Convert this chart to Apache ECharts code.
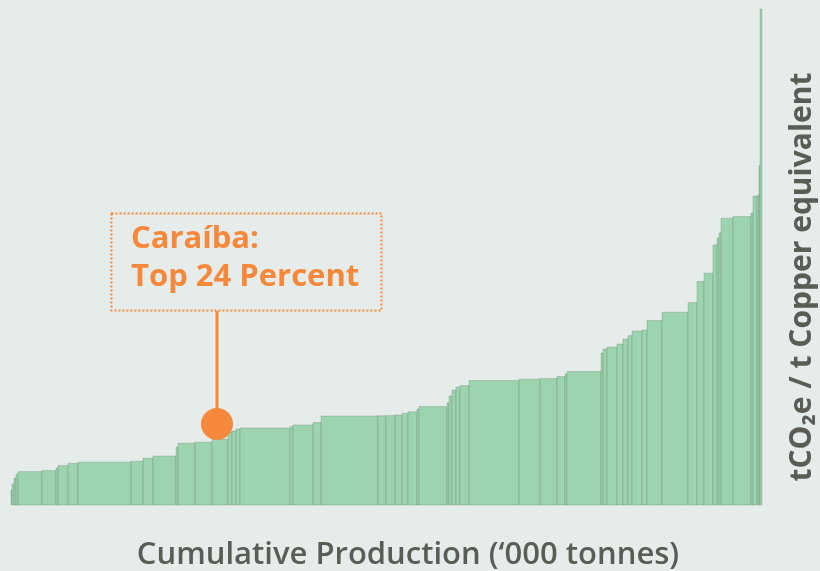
<!DOCTYPE html>
<html>
<head>
	<meta charset="utf-8">
	<title>Caraíba emissions curve</title>
	<script src="https://cdn.jsdelivr.net/npm/echarts@6.0.0/dist/echarts.min.js"></script>
	<style type="text/css">
		html, body { margin: 0; padding: 0; background-color: #e6ecea; }
		#curveBox { width: 820px; height: 571px; }
	</style>
</head>
<body>
<div id="curveBox"></div>

<script>
	// production of each asset, '000 tonnes (bar widths), in curve order
	var production = [
		25, 50, 50, 50, 600, 350, 50, 250, 250, 1325,
		300, 250, 575, 50, 425, 425, 400, 100, 100, 100,
		1250, 75, 500, 200, 1425, 200, 225, 175, 150, 225,
		50, 700, 50, 75, 100, 100, 225, 1250, 525, 425,
		200, 50, 850, 50, 100, 250, 150, 125, 100, 250,
		125, 375, 650, 225, 175, 225, 100, 50, 50, 300,
		450, 50, 100, 50, 25, 50
	];
	// emissions intensity, tCO2e / t copper equivalent (bar heights)
	var intensity = [
		0.75, 1.05, 1.35, 1.55, 1.67, 1.72, 1.85, 1.97, 2.08, 2.14,
		2.19, 2.34, 2.45, 2.90, 3.09, 3.14, 3.30, 3.64, 3.70, 3.80,
		3.85, 3.92, 4.00, 4.12, 4.45, 4.46, 4.47, 4.50, 4.58, 4.66,
		4.80, 4.92, 5.10, 5.45, 5.75, 5.90, 5.97, 6.22, 6.29, 6.32,
		6.42, 6.55, 6.67, 7.60, 7.80, 7.90, 8.05, 8.29, 8.47, 8.70,
		8.75, 9.22, 9.64, 10.12, 11.17, 11.59, 13.00, 13.35, 13.60, 14.34,
		14.42, 14.60, 15.45, 15.48, 16.97, 24.80
	];
	// Caraíba marker: cumulative production, intensity
	var caraiba = [5150, 4.05];
	var caraibaLabel = ['Caraíba:', 'Top 24 Percent'];
	var xTitle = 'Cumulative Production (‘000 tonnes)';
	var yTitle = 'tCO₂e / t Copper equivalent';

	var steps = [];
	var total = 0;
	for (var i = 0; i < production.length; i++) {
		steps.push([total, total + production[i], intensity[i]]);
		total += production[i];
	}

	function renderStep(params, api) {
		var topLeft = api.coord([api.value(0), api.value(2)]);
		var bottomRight = api.coord([api.value(1), 0]);
		return {
			type: 'rect',
			shape: {
				x: topLeft[0],
				y: topLeft[1],
				width: bottomRight[0] - topLeft[0],
				height: bottomRight[1] - topLeft[1]
			},
			style: { fill: '#9bd4ae', stroke: 'rgba(105,128,110,0.55)', lineWidth: 0.6 }
		};
	}

	var curveChart = echarts.init(document.getElementById('curveBox'));
	var orange = '#f5883a';
	var grey = '#5a5c56';

	curveChart.setOption({
		backgroundColor: '#e6ecea',
		animation: false,
		grid: { left: 11, right: 58, top: 5, bottom: 66 },
		xAxis: {
			type: 'value',
			min: 0,
			max: total,
			axisLine: { show: false },
			axisTick: { show: false },
			axisLabel: { show: false },
			splitLine: { show: false }
		},
		yAxis: {
			type: 'value',
			min: 0,
			max: 25,
			axisLine: { show: false },
			axisTick: { show: false },
			axisLabel: { show: false },
			splitLine: { show: false }
		},
		series: [{
			type: 'custom',
			renderItem: renderStep,
			encode: { x: [0, 1], y: 2 },
			data: steps,
			z: 2
		}, {
			type: 'scatter',
			symbolSize: 32,
			itemStyle: { color: orange, opacity: 1 },
			data: [caraiba],
			z: 5
		}],
		graphic: [{
			type: 'rect',
			shape: { x: 111.5, y: 213.5, width: 270, height: 97 },
			style: { fill: 'none', stroke: orange, lineWidth: 2, lineDash: [2, 2] },
			z: 10
		}, {
			type: 'line',
			shape: { x1: 217, y1: 311, x2: 217, y2: 420 },
			style: { stroke: orange, lineWidth: 3 },
			z: 4
		}, {
			type: 'text',
			left: 131,
			top: 220,
			style: {
				text: caraibaLabel.join('\n'),
				fill: orange,
				font: 'bold 31px "Open Sans"',
				lineHeight: 38
			},
			z: 10
		}, {
			type: 'text',
			x: 408,
			y: 555,
			style: {
				text: xTitle,
				fill: grey,
				font: '600 31px "Open Sans"',
				align: 'center',
				verticalAlign: 'middle'
			}
		}, {
			type: 'text',
			x: 802,
			y: 277,
			rotation: Math.PI / 2,
			style: {
				text: yTitle,
				fill: grey,
				font: 'bold 30px "Open Sans"',
				align: 'center',
				verticalAlign: 'middle'
			}
		}]
	});
</script>
</body>
</html>
